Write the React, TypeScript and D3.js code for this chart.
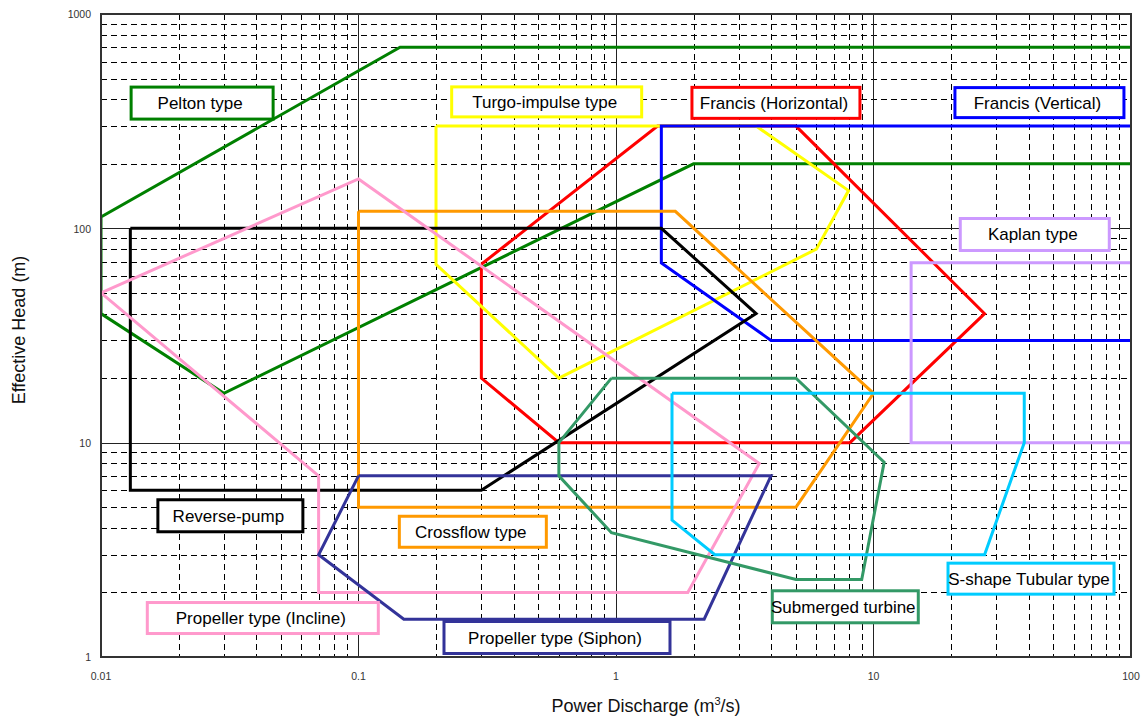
import React from "react";
import * as d3 from "d3";

// Axis extents and tick labels
const xDomain: [number, number] = [0.01, 100];
const yDomain: [number, number] = [1, 1000];
const xTickValues = [0.01, 0.1, 1, 10, 100];
const xTickLabels = ["0.01", "0.1", "1", "10", "100"];
const yTickValues = [1, 10, 100, 1000];
const yTickLabels = ["1", "10", "100", "1000"];

// Application ranges of each turbine type: [discharge (m3/s), head (m)] vertices
const peltonRange = [[100, 700], [0.145, 700], [0.01, 113], [0.01, 40], [0.03, 17], [2, 200], [100, 200]];
const francisHRange = [[0.3, 68], [1.45, 300], [5, 300], [27, 40], [8.1, 10], [0.6, 10], [0.3, 20], [0.3, 68]];
const turgoRange = [[0.2, 300], [3.5, 300], [8, 150], [6, 80], [0.6, 20], [0.2, 68], [0.2, 300]];
const francisVRange = [[100, 300], [1.5, 300], [1.5, 69], [4, 30], [100, 30]];
const reversePumpRange = [[0.013, 100], [1.5, 100], [3.5, 40], [0.3, 6], [0.013, 6], [0.013, 100]];
const crossflowRange = [[0.1, 120], [1.7, 120], [10, 17], [5, 5], [0.1, 5], [0.1, 120]];
const kaplanRange = [[100, 69], [14, 69], [14, 10], [100, 10]];
const propInclineRange = [[0.01, 50], [0.1, 170], [3.6, 8], [1.9, 2], [0.07, 2], [0.07, 7], [0.01, 50]];
const propSiphonRange = [[0.1, 7], [4, 7], [2.2, 1.5], [0.15, 1.5], [0.07, 3], [0.1, 7]];
const submergedRange = [[0.96, 20], [5, 20], [11, 8.1], [9, 2.3], [5, 2.3], [0.96, 3.8], [0.6, 7], [0.6, 10], [0.96, 20]];
const sShapeRange = [[1.65, 17], [38.5, 17], [38.5, 10], [27, 3], [2.42, 3], [1.65, 4.35], [1.65, 17]];

const seriesNames = [
  "Pelton type",
  "Francis (Horizontal)",
  "Turgo-impulse type",
  "Francis (Vertical)",
  "Reverse-pump",
  "Crossflow type",
  "Kaplan type",
  "Propeller type (Incline)",
  "Propeller type (Siphon)",
  "Submerged turbine",
  "S-shape Tubular type",
];
const seriesRanges = [
  peltonRange,
  francisHRange,
  turgoRange,
  francisVRange,
  reversePumpRange,
  crossflowRange,
  kaplanRange,
  propInclineRange,
  propSiphonRange,
  submergedRange,
  sShapeRange,
];
const seriesColors = [
  "#008000",
  "#ff0000",
  "#ffff00",
  "#0000ff",
  "#000000",
  "#ff9900",
  "#cc99ff",
  "#ff99cc",
  "#333399",
  "#339966",
  "#00ccff",
];

// Name tags: centre anchored in data units, box size in pixels
const tagCenters = [
  [0.0247, 384],
  [4.18, 385],
  [0.538, 389],
  [44.1, 386],
  [0.0318, 4.56],
  [0.278, 3.84],
  [42.3, 93.6],
  [0.0425, 1.52],
  [0.59, 1.233],
  [7.77, 1.715],
  [40.9, 2.32],
];
const tagSizes = [
  [142, 32],
  [168, 31],
  [190, 30],
  [169, 30],
  [145, 32],
  [147, 31],
  [149, 32],
  [231, 31],
  [226, 32],
  [146, 32],
  [166, 31],
];

const W = 1144;
const H = 717;
const M = { left: 101, right: 1131, top: 14, bottom: 657 };
const FONT = "'Liberation Sans', Arial, Helvetica, sans-serif";

// snap a coordinate to the pixel centre so 1px grid lines stay sharp
const snap = (v: number) => Math.round(v) + 0.5;

export default function App() {
  const x = d3.scaleLog().domain(xDomain).range([M.left, M.right]);
  const y = d3.scaleLog().domain(yDomain).range([M.bottom, M.top]);

  const line = d3
    .line<number[]>()
    .x((d) => x(d[0]))
    .y((d) => y(d[1]));

  // minor grid values: 2..9 within each decade
  const xMinor: number[] = [];
  for (let e = -2; e < 2; e++) for (let k = 2; k <= 9; k++) xMinor.push(k * Math.pow(10, e));
  const yMinor: number[] = [];
  for (let e = 0; e < 3; e++) for (let k = 2; k <= 9; k++) yMinor.push(k * Math.pow(10, e));
  const xMajor = xTickValues.slice(1, -1);
  const yMajor = yTickValues.slice(1, -1);

  return (
    <div style={{ position: "absolute", left: 0, top: 0, width: W, height: H, background: "#fff" }}>
      <svg width={W} height={H} style={{ display: "block" }} fontFamily={FONT}>
        <defs>
          <clipPath id="plot-clip">
            <rect x={M.left} y={M.top} width={M.right - M.left} height={M.bottom - M.top} />
          </clipPath>
        </defs>
        <rect x={0} y={0} width={W} height={H} fill="#fff" />

        {/* grid */}
        <g shapeRendering="crispEdges">
          {xMinor.map((v, i) => (
            <line key={"xm" + i} x1={snap(x(v))} x2={snap(x(v))} y1={M.top} y2={M.bottom} stroke="#000" strokeWidth={1} strokeDasharray="6,4" />
          ))}
          {yMinor.map((v, i) => (
            <line key={"ym" + i} x1={M.left} x2={M.right} y1={snap(y(v))} y2={snap(y(v))} stroke="#000" strokeWidth={1} strokeDasharray="6,4" />
          ))}
          {xMajor.map((v, i) => (
            <line key={"xM" + i} x1={snap(x(v))} x2={snap(x(v))} y1={M.top} y2={M.bottom} stroke="#222" strokeWidth={1} />
          ))}
          {yMajor.map((v, i) => (
            <line key={"yM" + i} x1={M.left} x2={M.right} y1={snap(y(v))} y2={snap(y(v))} stroke="#222" strokeWidth={1} />
          ))}
        </g>

        {/* application ranges */}
        <g clipPath="url(#plot-clip)">
          {seriesRanges.map((pts, i) => (
            <path
              key={"r" + i}
              d={line(pts as number[][]) || ""}
              fill="none"
              stroke={seriesColors[i]}
              strokeWidth={3}
              strokeLinejoin="miter"
            />
          ))}
        </g>

        {/* frame */}
        <rect
          x={M.left}
          y={M.top}
          width={M.right - M.left}
          height={M.bottom - M.top}
          fill="none"
          stroke="#333"
          strokeWidth={2}
        />

        {/* name tags */}
        <g>
          {seriesNames.map((name, i) => {
            const cx = x(tagCenters[i][0]);
            const cy = y(tagCenters[i][1]);
            const [w, h] = tagSizes[i];
            return (
              <g key={"t" + i}>
                <rect x={cx - w / 2} y={cy - h / 2} width={w} height={h} fill="#fff" stroke={seriesColors[i]} strokeWidth={3} />
                <text x={cx - 2} y={cy + 6} textAnchor="middle" fontSize={17} fill="#000">
                  {name}
                </text>
              </g>
            );
          })}
        </g>

        {/* tick labels */}
        <g fontSize={10.5} fill="#333">
          {yTickValues.map((v, i) => (
            <text key={"yl" + i} x={91} y={y(v) + 1.5} textAnchor="end" dominantBaseline="middle">
              {yTickLabels[i]}
            </text>
          ))}
          {xTickValues.map((v, i) => (
            <text key={"xl" + i} x={x(v)} y={677} textAnchor="middle" dominantBaseline="middle">
              {xTickLabels[i]}
            </text>
          ))}
        </g>

        {/* axis titles */}
        <text x={646} y={712} textAnchor="middle" fontSize={18} fill="#111">
          Power Discharge (m
          <tspan fontSize={11} dy={-7}>3</tspan>
          <tspan dy={7}>/s)</tspan>
        </text>
        <text transform="translate(25,330) rotate(-90)" textAnchor="middle" fontSize={18} fill="#111">
          Effective Head (m)
        </text>
      </svg>
    </div>
  );
}
